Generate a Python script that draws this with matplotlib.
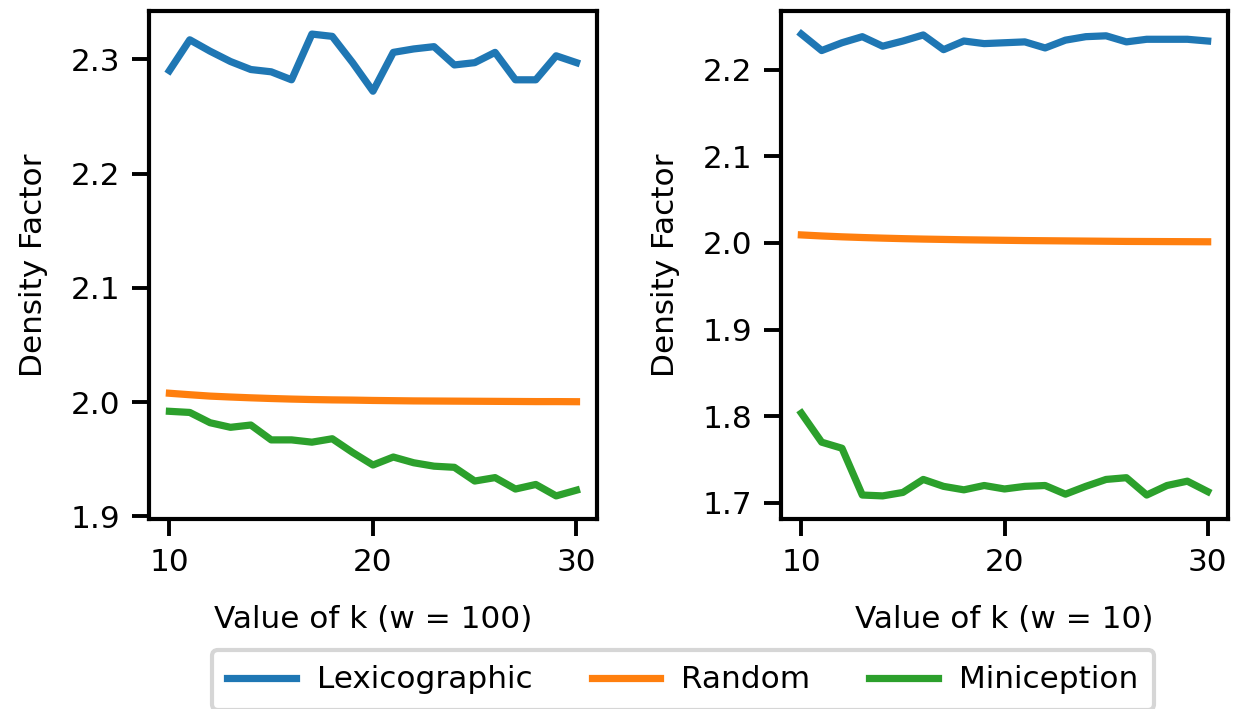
import numpy as np
import matplotlib
matplotlib.use("Agg")
import matplotlib.pyplot as plt

# k values on the x axis
k_vals = list(range(10, 31))

# w = 100 panel
lex_w100 = [2.290, 2.317, 2.307, 2.298, 2.291, 2.289, 2.282, 2.322, 2.320, 2.297, 2.272,
            2.306, 2.309, 2.311, 2.295, 2.297, 2.306, 2.282, 2.282, 2.303, 2.297]
rand_w100 = [2.0078, 2.0065, 2.0053, 2.0045, 2.0038, 2.0032, 2.0027, 2.0023, 2.0020, 2.0018, 2.0015,
             2.0013, 2.0011, 2.0010, 2.0009, 2.0008, 2.0007, 2.0006, 2.0005, 2.0005, 2.0004]
mini_w100 = [1.992, 1.991, 1.982, 1.978, 1.980, 1.967, 1.967, 1.965, 1.968, 1.956, 1.945,
             1.952, 1.947, 1.944, 1.943, 1.931, 1.934, 1.924, 1.928, 1.918, 1.923]

# w = 10 panel
lex_w10 = [2.241, 2.222, 2.231, 2.238, 2.227, 2.233, 2.240, 2.223, 2.233, 2.230, 2.231,
           2.232, 2.225, 2.234, 2.238, 2.239, 2.232, 2.235, 2.235, 2.235, 2.233]
rand_w10 = [2.0092, 2.0080, 2.0070, 2.0062, 2.0055, 2.0049, 2.0044, 2.0040, 2.0036, 2.0033, 2.0030,
            2.0027, 2.0025, 2.0023, 2.0021, 2.0019, 2.0017, 2.0016, 2.0015, 2.0014, 2.0013]
mini_w10 = [1.8035, 1.770, 1.763, 1.709, 1.708, 1.712, 1.727, 1.719, 1.715, 1.720, 1.716,
            1.719, 1.720, 1.710, 1.719, 1.727, 1.729, 1.709, 1.720, 1.725, 1.713]

labels = ["Lexicographic", "Random", "Miniception"]
colors = ["#1f77b4", "#ff7f0e", "#2ca02c"]
xlabels = ["Value of k (w = 100)", "Value of k (w = 10)"]

plt.rcParams["font.family"] = ["DejaVu Sans"]
plt.rcParams["font.size"] = 11.2
plt.rcParams["axes.linewidth"] = 1.5

fig = plt.figure(figsize=(6.185, 3.545), dpi=200)
ax1 = fig.add_axes([0.1205, 0.268, 0.362, 0.7165])
ax2 = fig.add_axes([0.6314, 0.268, 0.3613, 0.7165])

panels = [(ax1, [lex_w100, rand_w100, mini_w100]), (ax2, [lex_w10, rand_w10, mini_w10])]
for i, (ax, series) in enumerate(panels):
    for s, lab, c in zip(series, labels, colors):
        ax.plot(k_vals, s, color=c, lw=2.6, label=lab)
    ax.set_xticks([10, 20, 30])
    ax.set_xlabel(xlabels[i], labelpad=10)
    ax.set_ylabel("Density Factor", labelpad=8)
    ax.tick_params(direction="out", length=6, width=1.4, pad=4.5)

ax1.set_yticks([1.9, 2.0, 2.1, 2.2, 2.3])
ax2.set_yticks([1.7, 1.8, 1.9, 2.0, 2.1, 2.2])

handles, labs = ax1.get_legend_handles_labels()
leg = fig.legend(handles, labs, loc="center", bbox_to_anchor=(0.552, 0.041), ncol=3,
                 frameon=True, fancybox=True, edgecolor="#cccccc", handlelength=2.2,
                 handletextpad=0.68, columnspacing=1.9, borderpad=0.5)
leg.get_frame().set_linewidth(1.5)

fig.savefig("out.png", dpi=200)
